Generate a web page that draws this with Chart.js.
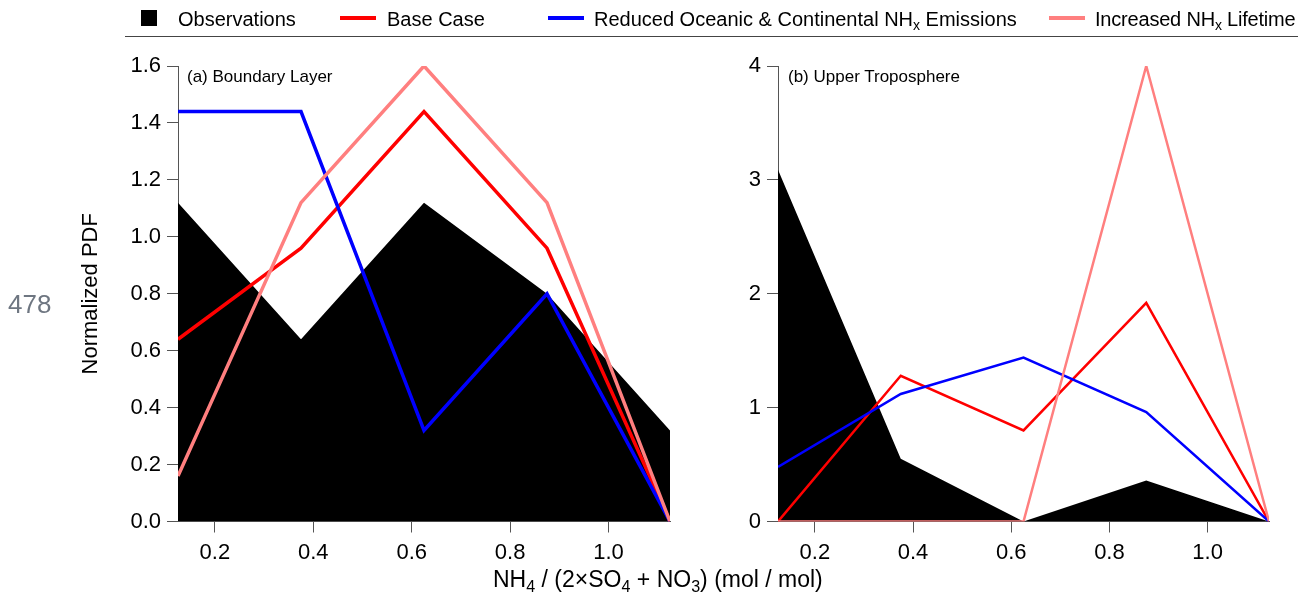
<!DOCTYPE html>
<html>
<head>
<meta charset="utf-8">
<script src="https://cdn.jsdelivr.net/npm/chart.js@4.4.1/dist/chart.umd.min.js"></script>
<style>
  html,body{margin:0;padding:0;background:#fff;}
  body{width:1309px;height:599px;position:relative;overflow:hidden;font-family:"Liberation Sans",Arial,sans-serif;color:#000;}
  canvas{position:absolute;top:0;}
  .txt{position:absolute;white-space:nowrap;line-height:1;}
  sub{font-size:70%;vertical-align:-0.3em;line-height:0;}
  .leg{position:absolute;top:9px;font-size:20px;white-space:nowrap;line-height:1;}
  .sw{position:absolute;}
</style>
</head>
<body>
<canvas id="c1" width="680" height="599" style="left:0px"></canvas>
<canvas id="c2" width="629" height="599" style="left:680px"></canvas>

<!-- legend -->
<div class="sw" style="left:141px;top:10px;width:16px;height:16px;background:#000"></div>
<div class="leg" style="left:178px">Observations</div>
<div class="sw" style="left:340px;top:16px;width:36px;height:4px;background:#ff0000"></div>
<div class="leg" style="left:387px">Base Case</div>
<div class="sw" style="left:548px;top:16px;width:36px;height:4px;background:#0000ff"></div>
<div class="leg" style="left:594px">Reduced Oceanic &amp; Continental NH<sub>x</sub> Emissions</div>
<div class="sw" style="left:1049px;top:16px;width:36px;height:4px;background:#ff7f7f"></div>
<div class="leg" style="left:1095px;letter-spacing:-0.2px">Increased NH<sub>x</sub> Lifetime</div>
<div class="sw" style="left:125px;top:36px;width:1173px;height:1px;background:#444"></div>

<div class="txt" style="left:187px;top:68px;font-size:17px">(a) Boundary Layer</div>
<div class="txt" style="left:788px;top:68px;font-size:17px">(b) Upper Troposphere</div>
<div class="txt" style="left:493px;top:568px;font-size:23px">NH<sub>4</sub> / (2×SO<sub>4</sub> + NO<sub>3</sub>) (mol / mol)</div>
<div class="txt" style="left:8px;top:291px;font-size:26px;color:#6e7681">478</div>

<script>
// ---- data ----
const binCenters = [0.125, 0.375, 0.625, 0.875, 1.125];
const xTickValues = [0.2, 0.4, 0.6, 0.8, 1.0];

// (a) Boundary Layer
const blObservations = [1.12, 0.64, 1.12, 0.80, 0.32];
const blBaseCase     = [0.64, 0.96, 1.44, 0.96, 0.00];
const blReduced      = [1.44, 1.44, 0.32, 0.80, 0.00];
const blIncreased    = [0.16, 1.12, 1.60, 1.12, 0.00];

// (b) Upper Troposphere
const utObservations = [3.09, 0.55, 0.00, 0.36, 0.00];
const utBaseCase     = [0.00, 1.28, 0.80, 1.92, 0.00];
const utReduced      = [0.48, 1.12, 1.44, 0.96, 0.00];
const utIncreased    = [0.00, 0.00, 0.00, 4.00, 0.00];

const leftYTicks = [0, 0.2, 0.4, 0.6, 0.8, 1.0, 1.2, 1.4, 1.6];
const rightYTicks = [0, 1, 2, 3, 4];

// ---- helpers ----
function pts(vals){ return binCenters.map((x,i)=>({x:x, y:vals[i]})); }

const FONT = "'Liberation Sans', Arial, sans-serif";
const AXC = '#555';

function makeDatasets(obs, base, red, inc, lw){
  return [
    {label:'Observations', data:pts(obs), showLine:true, fill:'origin', backgroundColor:'#000', borderColor:'#000', borderWidth:0, pointRadius:0, order:4},
    {label:'Base Case', data:pts(base), showLine:true, fill:false, borderColor:'#ff0000', borderWidth:lw, pointRadius:0, order:3},
    {label:'Reduced', data:pts(red), showLine:true, fill:false, borderColor:'#0000ff', borderWidth:lw, pointRadius:0, order:2},
    {label:'Increased', data:pts(inc), showLine:true, fill:false, borderColor:'#ff7f7f', borderWidth:lw, pointRadius:0, order:1}
  ];
}

function makeOptions(yTicks, yFmt, padLeft, padRight, yWidth, withTitle){
  return {
    responsive:false, animation:false, devicePixelRatio:1,
    layout:{padding:{left:padLeft, right:padRight, top:66, bottom:0}},
    plugins:{legend:{display:false}, tooltip:{enabled:false}},
    elements:{line:{tension:0, borderJoinStyle:'miter', borderCapStyle:'butt'}},
    scales:{
      x:{type:'linear', min:binCenters[0], max:binCenters[binCenters.length-1],
        afterBuildTicks:(s)=>{ s.ticks = xTickValues.map(v=>({value:v})); },
        afterFit:(s)=>{ s.height = 77.5; },
        ticks:{font:{family:FONT,size:22}, color:'#000', padding:7, maxRotation:0, autoSkip:false,
          callback:(v)=>Number(v).toFixed(1)},
        grid:{drawOnChartArea:false, drawTicks:true, tickLength:11, color:AXC, lineWidth:1},
        border:{display:true, color:AXC, width:1}
      },
      y:{type:'linear', min:yTicks[0], max:yTicks[yTicks.length-1],
        afterBuildTicks:(s)=>{ s.ticks = yTicks.map(v=>({value:v})); },
        afterFit:(s)=>{ s.width = yWidth; },
        ticks:{font:{family:FONT,size:22}, color:'#000', padding:6, autoSkip:false,
          callback:(v)=>yFmt(v)},
        grid:{drawOnChartArea:false, drawTicks:true, tickLength:11, color:AXC, lineWidth:1},
        border:{display:true, color:AXC, width:1},
        title:{display:withTitle, text:'Normalized PDF', font:{family:FONT,size:22}, color:'#000', padding:{top:4,bottom:0}}
      }
    }
  };
}

new Chart(document.getElementById('c1'), {
  type:'scatter',
  data:{datasets:makeDatasets(blObservations, blBaseCase, blReduced, blIncreased, 3.5)},
  options:makeOptions(leftYTicks, v=>Number(v).toFixed(1), 74, 10, 104, true)
});

new Chart(document.getElementById('c2'), {
  type:'scatter',
  data:{datasets:makeDatasets(utObservations, utBaseCase, utReduced, utIncreased, 2.5)},
  options:makeOptions(rightYTicks, v=>String(v), 0, 40, 98, false)
});
</script>
</body>
</html>
